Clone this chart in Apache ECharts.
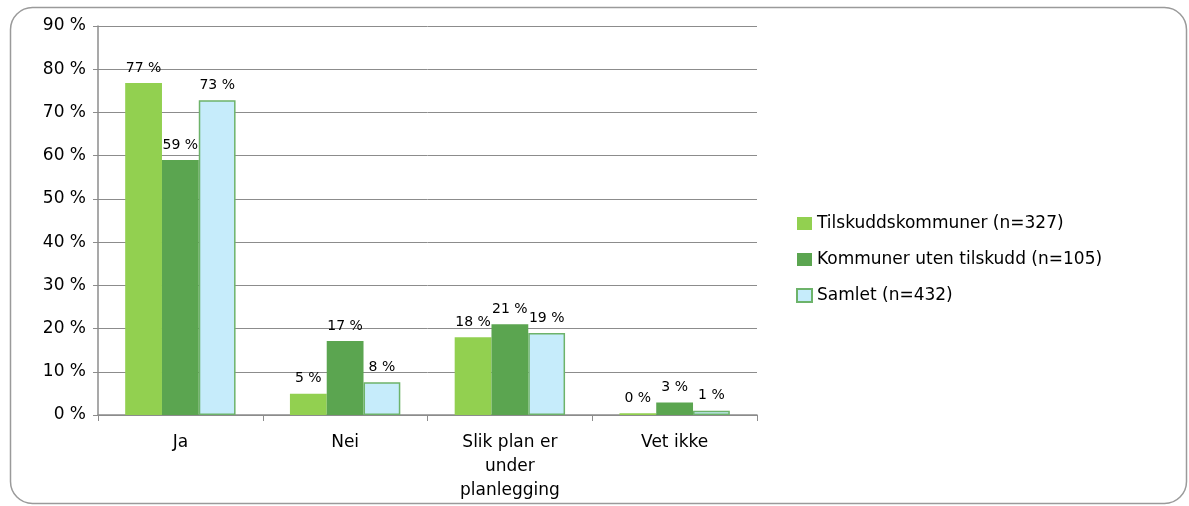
<!DOCTYPE html>
<html><head><meta charset="utf-8">
<script src="https://cdn.jsdelivr.net/npm/echarts@6/dist/echarts.min.js"></script>
<style>html,body{margin:0;padding:0;background:#fff}#c{width:1189px;height:506px}</style>
</head><body><div id="c"></div>
<script>
const categories = ['Ja', 'Nei', 'Slik plan er\nunder\nplanlegging', 'Vet ikke'];
const seriesNames = ['Tilskuddskommuner (n=327)', 'Kommuner uten tilskudd (n=105)', 'Samlet (n=432)'];
const tilskudd = [76.8, 4.9, 18.0, 0.4];
const utenTilskudd = [59.0, 17.1, 21.0, 2.9];
const samlet = [72.8, 7.6, 19.0, 1.0];
const yTicks = [0, 10, 20, 30, 40, 50, 60, 70, 80, 90];

const font = 'DejaVu Sans';
const chart = echarts.init(document.getElementById('c'));
const label = {
  show: true, position: 'top', distance: 8, color: '#000', fontFamily: font, fontSize: 14,
  formatter: p => Math.round(p.value) + ' %'
};
chart.setOption({
  animation: false,
  graphic: [{
    type: 'rect', left: 8, top: 5,
    shape: { x: 0, y: 0, width: 1176, height: 496, r: 22 },
    style: { fill: 'none', stroke: '#9a9a9a', lineWidth: 1.5 }, z: -1
  }],
  grid: { left: 98, right: 432, top: 26, bottom: 91 },
  legend: {
    orient: 'vertical', left: 791, top: 210, itemWidth: 15, itemHeight: 13, itemGap: 19,
    icon: 'rect',
    textStyle: { fontFamily: font, fontSize: 17, color: '#000' },
    data: seriesNames
  },
  xAxis: {
    type: 'category', data: categories,
    axisLine: { lineStyle: { color: '#8c8c8c', width: 1.5 } },
    axisTick: { show: true, length: 6, lineStyle: { color: '#8c8c8c' } },
    axisLabel: { fontFamily: font, fontSize: 17, color: '#000', margin: 16, lineHeight: 24, interval: 0 }
  },
  yAxis: {
    type: 'value', min: 0, max: 90, interval: 10,
    axisLine: { show: true, lineStyle: { color: '#8c8c8c', width: 1.5 } },
    axisTick: { show: true, length: 5, lineStyle: { color: '#8c8c8c' } },
    splitLine: { lineStyle: { color: '#8c8c8c', width: 1 } },
    axisLabel: { fontFamily: font, fontSize: 17, color: '#000', margin: 12,
      formatter: v => yTicks.includes(v) ? v + ' %' : '' }
  },
  series: [
    { name: seriesNames[0], type: 'bar', data: tilskudd, barGap: '0%', barCategoryGap: '33%',
      itemStyle: { color: '#92D050' }, label },
    { name: seriesNames[1], type: 'bar', data: utenTilskudd,
      itemStyle: { color: '#5BA550' }, label },
    { name: seriesNames[2], type: 'bar', data: samlet,
      itemStyle: { color: '#C6ECFB', borderColor: '#6DB36A', borderWidth: 1.5 }, label }
  ]
});
</script></body></html>
